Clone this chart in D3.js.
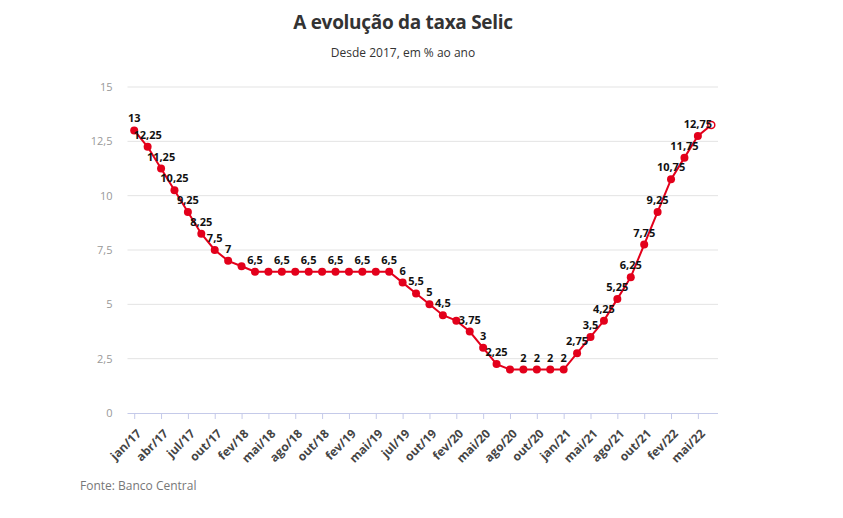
<!DOCTYPE html>
<html>
<head>
<meta charset="utf-8">
<script src="https://cdn.jsdelivr.net/npm/d3@7"></script>
<style>
  body { margin: 0; background: #fff; }
  svg { display: block; font-family: "Open Sans", sans-serif; }
</style>
</head>
<body>
<svg id="chart" width="843" height="518"></svg>
<script>
// COPOM meetings since jan/2017
const meetings = [
  "jan/17","fev/17","abr/17","mai/17","jul/17","set/17","out/17","dez/17",
  "fev/18","mar/18","mai/18","jun/18","ago/18","set/18","out/18","dez/18",
  "fev/19","mar/19","mai/19","jun/19","jul/19","set/19","out/19","dez/19",
  "fev/20","mar/20","mai/20","jun/20","ago/20","set/20","out/20","dez/20",
  "jan/21","mar/21","mai/21","jun/21","ago/21","set/21","out/21","dez/21",
  "fev/22","mar/22","mai/22","jun/22"
];
const selic = [
  13, 12.25, 11.25, 10.25, 9.25, 8.25, 7.5, 7,
  6.75, 6.5, 6.5, 6.5, 6.5, 6.5, 6.5, 6.5,
  6.5, 6.5, 6.5, 6.5, 6, 5.5, 5, 4.5,
  4.25, 3.75, 3, 2.25, 2, 2, 2, 2,
  2, 2.75, 3.5, 4.25, 5.25, 6.25, 7.75, 9.25,
  10.75, 11.75, 12.75, 13.25
];
// which points show a value label (1 = shown)
const showLabel = [
  1,1,1,1,1,1,1,1,
  0,1,0,1,0,1,0,1,
  0,1,0,1,1,1,1,1,
  0,1,1,1,0,1,1,1,
  1,1,1,1,1,1,1,1,
  1,1,1,0
];
const xTickLabels = [
  "jan/17","abr/17","jul/17","out/17","fev/18","mai/18","ago/18","out/18",
  "fev/19","mai/19","jul/19","out/19","fev/20","mai/20","ago/20","out/20",
  "jan/21","mai/21","ago/21","out/21","fev/22","mai/22"
];
const xTickIndex = xTickLabels.map(l => meetings.indexOf(l));
const yTicks = [0, 2.5, 5, 7.5, 10, 12.5, 15];

const fmt = v => String(v).replace(".", ",");
const svg = d3.select("#chart");
const pLeft = 127.5, pRight = 718, pTop = 87, pBottom = 413;
const red = "#e3001b";

const x = d3.scalePoint().domain(d3.range(meetings.length)).range([pLeft, pRight]).padding(0.5);
const y = d3.scaleLinear().domain([0, 15]).range([pBottom, pTop]);

// title
svg.append("text").attr("x", 403).attr("y", 29).attr("text-anchor", "middle")
  .attr("font-size", 19).attr("font-weight", 700).attr("fill", "#333")
  .attr("letter-spacing", "-0.3").text("A evolução da taxa Selic");
svg.append("text").attr("x", 403).attr("y", 57).attr("text-anchor", "middle")
  .attr("font-size", 12).attr("fill", "#333").text("Desde 2017, em % ao ano");

// grid
svg.append("g").selectAll("line").data(yTicks.filter(d => d > 0)).join("line")
  .attr("x1", pLeft).attr("x2", pRight)
  .attr("y1", d => y(d)).attr("y2", d => y(d))
  .attr("stroke", "#e3e3e3").attr("stroke-width", 1);

// y axis
const yAxis = svg.append("g").attr("transform", `translate(${pLeft},0)`)
  .call(d3.axisLeft(y).tickValues(yTicks).tickFormat(fmt).tickSize(0).tickPadding(15));
yAxis.select(".domain").remove();
yAxis.selectAll("text").attr("font-size", 11).attr("fill", "#999").attr("font-family", "Open Sans");

// x axis
const xAxis = svg.append("g").attr("transform", `translate(0,${pBottom})`)
  .call(d3.axisBottom(x).tickValues(xTickIndex).tickFormat(i => meetings[i]).tickSizeInner(6).tickSizeOuter(0));
xAxis.select(".domain").attr("stroke", "#c5cae9").attr("d", `M${pLeft},0.5H${pRight}`);
xAxis.selectAll(".tick line").attr("stroke", "#c5cae9");
xAxis.selectAll("text")
  .attr("font-size", 12).attr("font-weight", 700).attr("fill", "#444").attr("font-family", "Open Sans")
  .attr("text-anchor", "end").attr("dy", 0).attr("dx", 0)
  .attr("transform", "translate(1,15) rotate(-45)");

// line
const line = d3.line().x((d, i) => x(i)).y(d => y(d));
svg.append("path").datum(selic).attr("d", line)
  .attr("fill", "none").attr("stroke", red).attr("stroke-width", 2);

// points
svg.append("g").selectAll("circle").data(selic).join("circle")
  .attr("cx", (d, i) => x(i)).attr("cy", d => y(d))
  .attr("r", (d, i) => i === selic.length - 1 ? 3.5 : 4)
  .attr("fill", (d, i) => i === selic.length - 1 ? "#fff" : red)
  .attr("stroke", red).attr("stroke-width", (d, i) => i === selic.length - 1 ? 1.5 : 0);

// value labels
svg.append("g").selectAll("text").data(selic.map((v, i) => ({v, i})).filter(d => showLabel[d.i]))
  .join("text")
  .attr("x", d => x(d.i)).attr("y", d => y(d.v) - 8)
  .attr("text-anchor", "middle").attr("font-size", 11).attr("font-weight", 700)
  .attr("fill", "#111").text(d => fmt(d.v));

// source
svg.append("text").attr("x", 80).attr("y", 490).attr("font-size", 12).attr("fill", "#777")
  .text("Fonte: Banco Central");
</script>
</body>
</html>
